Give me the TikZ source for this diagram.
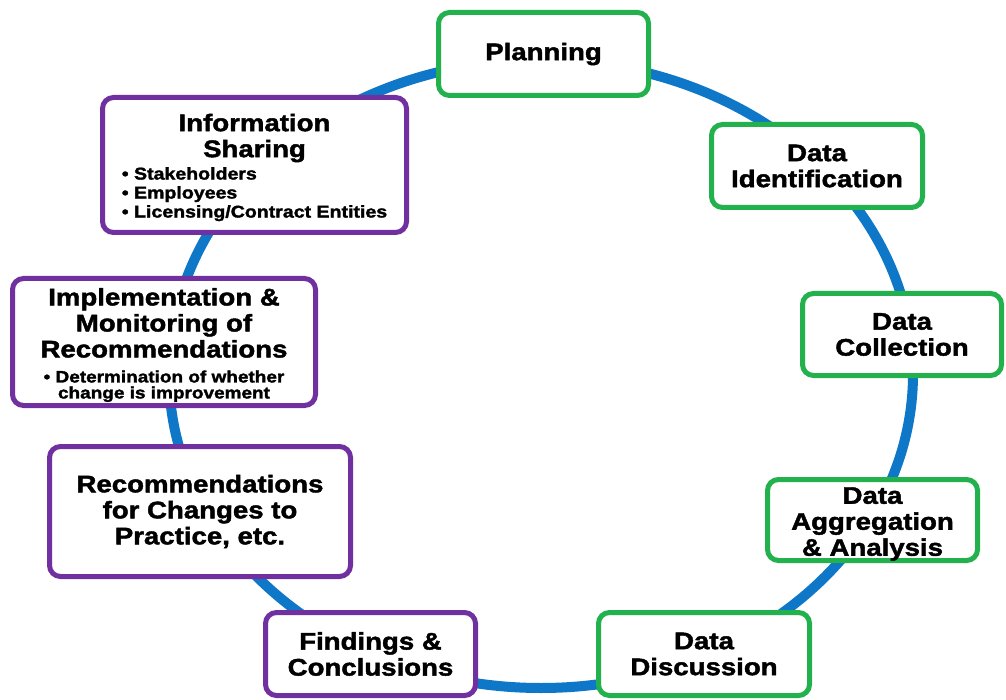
\documentclass[tikz,border=0pt]{standalone}
\usepackage{fontspec}
\newfontfamily\hv[FakeStretch=1.15,FakeBold=1.8]{Liberation Sans Bold}
\usetikzlibrary{shapes.geometric}
\definecolor{ringblue}{RGB}{14,119,200}
\definecolor{boxgreen}{RGB}{34,177,76}
\definecolor{boxpurple}{RGB}{112,48,160}
\newcommand{\ttl}{\fontsize{24}{26}\selectfont}
\newcommand{\sml}{\fontsize{17}{19}\selectfont}
\newcommand{\smr}{\fontsize{16.5}{16.5}\selectfont}
\tikzset{
  stagebox/.style={draw, line width=5pt, rounded corners=11pt, fill=white,
    inner sep=0pt, outer sep=0pt, align=center, font=\hv\ttl},
  greenbox/.style={stagebox, draw=boxgreen},
  purplebox/.style={stagebox, draw=boxpurple},
  boxtext/.style={inner sep=0pt, align=center, font=\hv\ttl},
}
\begin{document}
\begin{tikzpicture}[x=1pt,y=-1pt]
\useasboundingbox[fill=white] (0,0) rectangle (1006,700);
\node[ellipse, draw=ringblue, line width=10pt, minimum width=744pt, minimum height=628pt, inner sep=0pt] (ring) at (541,374) {};

\node[greenbox, minimum width=210pt, minimum height=83pt] (plan) at (543.5,54) {Planning};
\node[greenbox, minimum width=211pt, minimum height=83pt] (ident) at (817,166) {Data\\Identification};
\node[greenbox, minimum width=199pt, minimum height=82pt] (coll) at (902,334.5) {Data\\Collection};
\node[greenbox, minimum width=210pt, minimum height=81pt] (agg) at (872.5,520) {};
\node[boxtext] (aggtext) at ([yshift=-4pt]agg.center) {Data\\Aggregation\\\& Analysis};
\node[greenbox, minimum width=211pt, minimum height=83pt] (disc) at (704,654) {Data\\Discussion};
\node[purplebox, minimum width=210pt, minimum height=83pt] (find) at (370.5,654) {Findings \&\\Conclusions};
\node[purplebox, minimum width=301pt, minimum height=130pt] (recs) at (200,511.5) {Recommendations\\for Changes to\\Practice, etc.};
\node[purplebox, minimum width=303pt, minimum height=127pt] (impl) at (164,342) {};
\node[boxtext] (impltext) at ([yshift=-3pt]impl.center) {Implementation \&\\Monitoring of\\Recommendations\\[-1pt]{\smr • Determination of whether}\\[-10pt]{\smr change is improvement}};
\node[purplebox, minimum width=304pt, minimum height=135pt] (info) at (254.5,165) {};
\node[boxtext] (infotext) at ([yshift=-3.5pt]info.center) {Information\\Sharing\\[3pt]{\sml\begin{tabular}{@{}l@{}}• Stakeholders\\• Employees\\• Licensing/Contract Entities\end{tabular}}};
\end{tikzpicture}
\end{document}
